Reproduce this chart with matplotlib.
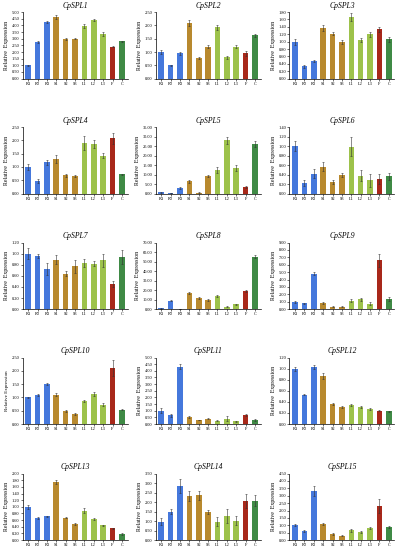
import numpy as np
import matplotlib
matplotlib.use("Agg")
import matplotlib.pyplot as plt

plt.rcParams['font.family'] = ['Liberation Serif', 'DejaVu Serif']

tissues = ['R1', 'R2', 'R3', 'S1', 'S2', 'S3', 'L1', 'L2', 'L3', 'F', 'C']

genes = ['CpSPL1', 'CpSPL2', 'CpSPL3', 'CpSPL4', 'CpSPL5', 'CpSPL6', 'CpSPL7', 'CpSPL8',
         'CpSPL9', 'CpSPL10', 'CpSPL11', 'CpSPL12', 'CpSPL13', 'CpSPL14', 'CpSPL15']

# relative expression per gene (R1..C)
spl1 = [1.00, 2.75, 4.25, 4.60, 2.95, 3.00, 3.95, 4.40, 3.35, 2.40, 2.80]
spl2 = [1.00, 0.50, 0.95, 2.10, 0.78, 1.20, 1.93, 0.80, 1.20, 0.95, 1.63]
spl3 = [1.00, 0.33, 0.48, 1.38, 1.22, 1.00, 1.67, 1.05, 1.20, 1.33, 1.07]
spl4 = [1.00, 0.48, 1.18, 1.30, 0.68, 0.67, 1.90, 1.87, 1.42, 2.07, 0.72]
spl5 = [0.8, 0.3, 3.0, 6.5, 0.5, 9.3, 12.5, 28.0, 13.5, 3.5, 26.0]
spl6 = [1.00, 0.22, 0.42, 0.57, 0.24, 0.39, 0.99, 0.38, 0.28, 0.31, 0.36]
spl7 = [1.00, 0.96, 0.73, 0.89, 0.64, 0.77, 0.83, 0.82, 0.88, 0.45, 0.94]
spl8 = [0.8, 9.0, 0.5, 17.0, 11.5, 9.5, 13.5, 2.5, 5.0, 19.5, 55.0]
spl9 = [1.00, 0.80, 4.80, 0.80, 0.35, 0.35, 1.15, 1.30, 0.75, 6.60, 1.35]
spl10 = [1.00, 1.10, 1.50, 1.10, 0.50, 0.38, 0.88, 1.12, 0.73, 2.10, 0.54]
spl11 = [1.00, 0.65, 4.30, 0.52, 0.30, 0.40, 0.25, 0.40, 0.20, 0.70, 0.30]
spl12 = [0.99, 0.53, 1.03, 0.87, 0.36, 0.31, 0.34, 0.31, 0.27, 0.24, 0.23]
spl13 = [0.98, 0.66, 0.71, 1.75, 0.67, 0.48, 0.88, 0.63, 0.44, 0.35, 0.18]
spl14 = [0.97, 1.50, 2.85, 2.33, 2.35, 1.47, 0.97, 1.27, 1.02, 2.05, 2.07]
spl15 = [1.00, 0.60, 3.30, 1.10, 0.40, 0.30, 0.65, 0.55, 0.80, 2.30, 0.88]

# standard errors
err1 = [0.05, 0.10, 0.10, 0.15, 0.08, 0.05, 0.12, 0.08, 0.12, 0.05, 0.05]
err2 = [0.08, 0.03, 0.06, 0.12, 0.05, 0.05, 0.10, 0.05, 0.06, 0.10, 0.05]
err3 = [0.08, 0.03, 0.02, 0.08, 0.05, 0.05, 0.10, 0.05, 0.07, 0.07, 0.07]
err4 = [0.10, 0.08, 0.10, 0.15, 0.04, 0.03, 0.25, 0.15, 0.10, 0.20, 0.02]
err5 = [0.3, 0.1, 0.4, 0.8, 0.2, 0.6, 1.5, 1.8, 1.5, 0.4, 1.5]
err6 = [0.10, 0.06, 0.10, 0.10, 0.04, 0.05, 0.20, 0.12, 0.14, 0.10, 0.08]
err7 = [0.10, 0.04, 0.11, 0.08, 0.05, 0.12, 0.07, 0.05, 0.12, 0.06, 0.12]
err8 = [0.2, 1.0, 0.1, 1.5, 0.8, 0.8, 1.0, 0.5, 0.6, 1.0, 1.5]
err9 = [0.15, 0.05, 0.25, 0.10, 0.05, 0.05, 0.15, 0.20, 0.20, 0.90, 0.25]
err10 = [0.03, 0.04, 0.05, 0.05, 0.04, 0.03, 0.04, 0.08, 0.07, 0.30, 0.03]
err11 = [0.20, 0.10, 0.20, 0.10, 0.03, 0.05, 0.03, 0.20, 0.03, 0.08, 0.10]
err12 = [0.03, 0.01, 0.03, 0.05, 0.02, 0.02, 0.02, 0.02, 0.02, 0.01, 0.01]
err13 = [0.06, 0.02, 0.02, 0.06, 0.01, 0.03, 0.08, 0.02, 0.02, 0.02, 0.02]
err14 = [0.20, 0.15, 0.35, 0.25, 0.25, 0.10, 0.25, 0.35, 0.25, 0.35, 0.30]
err15 = [0.07, 0.05, 0.35, 0.05, 0.05, 0.05, 0.07, 0.08, 0.07, 0.45, 0.05]

values = [spl1, spl2, spl3, spl4, spl5, spl6, spl7, spl8, spl9, spl10, spl11, spl12, spl13, spl14, spl15]
errors = [err1, err2, err3, err4, err5, err6, err7, err8, err9, err10, err11, err12, err13, err14, err15]

ymax = [5.0, 2.5, 1.8, 2.5, 35, 1.4, 1.2, 70, 9, 2.5, 5.0, 1.2, 2.0, 3.5, 4.5]
ystep = [0.5, 0.5, 0.2, 0.5, 5, 0.2, 0.2, 10, 1, 0.5, 0.5, 0.2, 0.2, 0.5, 0.5]

blue = '#4578DC'
brown = '#B8892E'
green = '#9DC24B'
colors = [blue] * 3 + [brown] * 3 + [green] * 3 + ['#A8281A', '#3F8A45']

fig = plt.figure(figsize=(3.96, 5.50), dpi=100)

lefts = [0.057, 0.393, 0.731]
row_bottoms = [0.857, 0.648, 0.438, 0.229, 0.018]
w, h = 0.265, 0.121

for i, g in enumerate(genes):
    r, c = divmod(i, 3)
    ax = fig.add_axes([lefts[c], row_bottoms[r], w, h])
    x = np.arange(len(tissues))
    ax.bar(x, values[i], width=0.6, color=colors, yerr=errors[i],
           error_kw=dict(ecolor='#333333', elinewidth=0.4, capsize=0.8, capthick=0.4))
    ax.set_xlim(-0.6, len(tissues) - 0.4)
    ax.set_ylim(0, ymax[i])
    ax.set_yticks(np.arange(0, ymax[i] + ystep[i] / 2, ystep[i]))
    ax.yaxis.set_major_formatter(matplotlib.ticker.FormatStrFormatter('%.2f'))
    ax.set_xticks(x)
    ax.set_xticklabels(tissues)
    ax.tick_params(axis='both', labelsize=3.2, length=1.2, width=0.4, pad=1.2)
    ax.spines['top'].set_visible(False)
    ax.spines['right'].set_visible(False)
    ax.spines['left'].set_linewidth(0.5)
    ax.spines['bottom'].set_linewidth(0.5)
    ax.set_title(g, fontsize=5.5, style='italic', pad=3)
    ylab = 'Relative Expression' if g == 'CpSPL10' else 'Relative  Expression'
    ax.set_ylabel(ylab, fontsize=3.6 if g == 'CpSPL10' else 4.2, labelpad=1.5)

fig.savefig('out.png', dpi=100)
